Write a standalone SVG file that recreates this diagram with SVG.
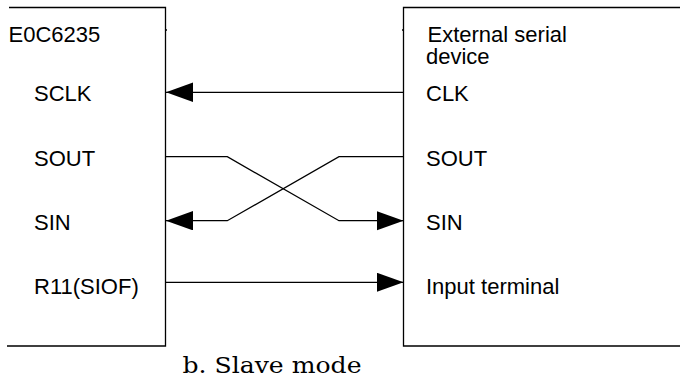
<svg xmlns="http://www.w3.org/2000/svg" width="680" height="383" viewBox="0 0 680 383">
  <style>
    .frame { fill: none; stroke: #000; stroke-width: 1.3; }
    .wire { fill: none; stroke: #000; stroke-width: 1.3; }
    .label { font-family: "Liberation Sans", Arial, sans-serif; font-size: 22px; fill: #000; }
    .caption { font-family: "DejaVu Serif", "Liberation Serif", serif; font-size: 22.5px; fill: #000; }
  </style>
  <defs>
    <marker id="arrow" markerUnits="userSpaceOnUse" markerWidth="28" markerHeight="20" refX="27" refY="9.7" orient="auto">
      <path d="M0,0 L27,9.7 L0,19.4 Z" fill="#000"/>
    </marker>
  </defs>
  <rect width="680" height="383" fill="#fff"/>

  <!-- Microcontroller block (left edge falls outside the sheet) -->
  <g id="mcu">
    <path class="frame" d="M9,7.5 H165.5 V346 H7"/>
    <path class="frame" d="M165.5,30 H167"/>
    <text class="label" x="8.5" y="42">E0C6235</text>
    <text class="label" x="34" y="101">SCLK</text>
    <text class="label" x="34" y="165.5">SOUT</text>
    <text class="label" x="34" y="230">SIN</text>
    <text class="label" x="34" y="294">R11(SIOF)</text>
  </g>

  <!-- External serial device block (extends past the right edge) -->
  <g id="ext">
    <path class="frame" d="M681,7.5 H403.5 V346 H681"/>
    <path class="frame" d="M402,30 H403.5"/>
    <text class="label"><tspan x="427.5" y="42">External serial</tspan><tspan x="426" y="64">device</tspan></text>
    <text class="label" x="426" y="101">CLK</text>
    <text class="label" x="426" y="165.5">SOUT</text>
    <text class="label" x="426" y="230">SIN</text>
    <text class="label" x="426" y="294">Input terminal</text>
  </g>

  <!-- Signal lines -->
  <g id="connectors">
    <path class="wire" d="M403.5,92.3 H166" marker-end="url(#arrow)"/>
    <path class="wire" d="M166,156.7 H227.3 L339,220.7 H403.5" marker-end="url(#arrow)"/>
    <path class="wire" d="M403.5,156.7 H339 L227.3,220.7 H166" marker-end="url(#arrow)"/>
    <path class="wire" d="M166,282.3 H403.5" marker-end="url(#arrow)"/>
  </g>

  <text class="caption" x="182.5" y="373.3" textLength="179" lengthAdjust="spacingAndGlyphs">b. Slave mode</text>
</svg>
